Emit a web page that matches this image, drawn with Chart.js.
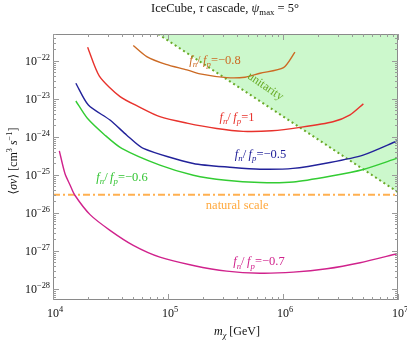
<!DOCTYPE html>
<html>
<head>
<meta charset="utf-8">
<script src="https://cdn.jsdelivr.net/npm/chart.js@4.4.0/dist/chart.umd.min.js"></script>
<style>
  html, body { margin: 0; padding: 0; background: #fff; }
  #chart { display: block; }
</style>
</head>
<body>
<canvas id="chart" width="407" height="343"></canvas>
<script>
const serif = '"Liberation Serif", "DejaVu Serif", serif';

// dark matter mass m_chi [GeV] and <sigma v> [cm^3 s^-1]
const massFnFp1 = [2.0e4, 2.53e4, 3.83e4, 5.71e4, 8.5e4, 1.46e5, 2.65e5, 4.5e5, 8.0e5, 1.41e6, 2.72e6, 3.83e6, 5.0e6];
const sigmaFnFp1 = [2.3e-22, 4.0e-23, 1.15e-23, 6.0e-24, 3.4e-24, 2.3e-24, 1.66e-24, 1.4e-24, 1.45e-24, 1.78e-24, 2.5e-24, 3.8e-24, 7.4e-24];

const massFnFpM08 = [4.99e4, 6.53e4, 9.6e4, 1.46e5, 1.90e5, 3.24e5, 4.68e5, 6.31e5, 1.01e6, 1.27e6];
const sigmaFnFpM08 = [2.54e-22, 1.30e-22, 8.1e-23, 5.8e-23, 4.54e-23, 3.62e-23, 3.72e-23, 4.73e-23, 6.65e-23, 1.70e-22];

const massFnFpM05 = [1.58e4, 2.03e4, 3.13e4, 4.38e4, 6.10e4, 1.66e5, 3.67e5, 6.31e5, 1.22e6, 2.56e6, 4.97e6, 9.8e6];
const sigmaFnFpM05 = [2.58e-23, 6.9e-24, 2.77e-24, 1.11e-24, 4.98e-25, 2.0e-25, 1.57e-25, 1.41e-25, 1.48e-25, 2.12e-25, 3.31e-25, 7.8e-25];

const massFnFpM06 = [1.58e4, 1.99e4, 2.83e4, 3.96e4, 8.5e4, 1.66e5, 3.19e5, 6.31e5, 1.23e6, 2.56e6, 4.99e6, 9.75e6];
const sigmaFnFpM06 = [8.8e-24, 3.08e-24, 1.11e-24, 4.98e-25, 1.80e-25, 9.8e-26, 7.2e-26, 6.3e-26, 6.5e-26, 9.2e-26, 1.39e-25, 2.71e-25];

const massFnFpM07 = [1.135e4, 1.27e4, 1.41e4, 1.55e4, 2.10e4, 3.13e4, 4.99e4, 8.5e4, 1.66e5, 3.24e5, 6.31e5, 1.23e6, 2.40e6, 4.68e6, 9.75e6];
const sigmaFnFpM07 = [4.30e-25, 1.09e-25, 5.35e-26, 2.91e-26, 9.0e-27, 3.48e-27, 1.40e-27, 6.85e-28, 4.14e-28, 2.93e-28, 2.59e-28, 2.76e-28, 3.39e-28, 4.89e-28, 8.4e-28];

const unitarityMass = [8.2e4, 1e7];
const unitaritySigma = [5.1e-22, 3.5e-26];

const naturalMass = [1e4, 1e7];
const naturalSigma = [3e-26, 3e-26];

const xTickExps = [4, 5, 6, 7];
const yTickExps = [-28, -27, -26, -25, -24, -23, -22];

function toPoints(xs, ys) {
    return xs.map((x, i) => ({ x: x, y: ys[i] }));
}

// draw text made of pieces: style 'i' italic, 'b' subscript, 'p' superscript
function drawRich(ctx, segs, x, y, size, align, color) {
    const parts = segs.map(([t, s]) => {
        const script = s.includes('p') ? 'sup' : s.includes('b') ? 'sub' : '';
        const fs = script ? size * 0.7 : size;
        const font = (s.includes('i') ? 'italic ' : '') + fs + 'px ' + serif;
        ctx.font = font;
        return { t: t, font: font, w: ctx.measureText(t).width,
                 dy: script === 'sup' ? -size * 0.42 : script === 'sub' ? size * 0.25 : 0 };
    });
    const total = parts.reduce((a, p) => a + p.w, 0);
    let cx = align === 'center' ? x - total / 2 : align === 'right' ? x - total : x;
    ctx.fillStyle = color;
    ctx.textAlign = 'left';
    ctx.textBaseline = 'alphabetic';
    parts.forEach(p => {
        ctx.font = p.font;
        ctx.fillText(p.t, cx, y + p.dy);
        cx += p.w;
    });
}

function ratioLabel(val) {
    return [['f', 'i'], ['n', 'ib'], ['/', ''], ['\u2009f', 'i'], ['p', 'ib'], ['=' + val, '']];
}

const decorPlugin = {
    id: 'decor',
    afterDatasetsDraw(chart) {
        const ctx = chart.ctx;
        const area = chart.chartArea;
        const xs = chart.scales.x;
        const ys = chart.scales.y;
        ctx.save();

        // curve labels, anchored in data coordinates
        const labels = [
            [ratioLabel('\u22120.8'), 2.56e5, 8.3e-23, '#cc6a24'],
            [ratioLabel('1'), 3.98e5, 2.6e-24, '#e8322c'],
            [ratioLabel('\u22120.5'), 6.37e5, 2.76e-25, '#22229a'],
            [ratioLabel('\u22120.6'), 3.98e4, 6.8e-26, '#33c433'],
            [ratioLabel('\u22120.7'), 6.18e5, 4.14e-28, '#d0228c'],
            [[['natural scale', '']], 4.0e5, 1.25e-26, '#ffa83c']
        ];
        labels.forEach(([segs, mx, sv, col]) => {
            drawRich(ctx, segs, xs.getPixelForValue(mx), ys.getPixelForValue(sv), 12.5, 'center', col);
        });

        ctx.save();
        ctx.translate(xs.getPixelForValue(7.0e5), ys.getPixelForValue(2.1e-23));
        ctx.rotate(34 * Math.PI / 180);
        drawRich(ctx, [['unitarity', '']], 0, 3, 12, 'center', '#66aa22');
        ctx.restore();

        // frame
        ctx.strokeStyle = '#8a8a8a';
        ctx.lineWidth = 1;
        ctx.strokeRect(area.left + 0.5, area.top + 0.5, area.right - area.left - 1, area.bottom - area.top - 1);

        // ticks on all four sides, pointing inward
        ctx.strokeStyle = '#9a9a9a';
        ctx.beginPath();
        xTickExps.forEach(e => {
            for (let m = 1; m <= 9; m++) {
                const v = m * Math.pow(10, e);
                if (v > xs.max * 1.0001) break;
                const px = Math.round(xs.getPixelForValue(v)) + 0.5;
                const len = m === 1 ? 6 : 3;
                ctx.moveTo(px, area.bottom); ctx.lineTo(px, area.bottom - len);
                ctx.moveTo(px, area.top); ctx.lineTo(px, area.top + len);
            }
        });
        [-29].concat(yTickExps).forEach(e => {
            for (let m = 1; m <= 9; m++) {
                const v = m * Math.pow(10, e);
                if (v < ys.min || v > ys.max) continue;
                const py = Math.round(ys.getPixelForValue(v)) + 0.5;
                const len = m === 1 ? 6 : 3;
                ctx.moveTo(area.left, py); ctx.lineTo(area.left + len, py);
                ctx.moveTo(area.right, py); ctx.lineTo(area.right - len, py);
            }
        });
        ctx.stroke();

        // tick labels
        xTickExps.forEach(e => {
            const px = xs.getPixelForValue(Math.pow(10, e));
            drawRich(ctx, [['10', ''], [String(e), 'p']], px + 2, area.bottom + 17, 12, 'center', '#111');
        });
        yTickExps.forEach(e => {
            const py = ys.getPixelForValue(Math.pow(10, e));
            drawRich(ctx, [['10', ''], ['\u2212' + Math.abs(e), 'p']], area.left - 3, py + 4, 12, 'right', '#111');
        });

        // title and axis titles
        drawRich(ctx, [['IceCube, ', ''], ['\u03c4', 'i'], [' cascade, ', ''], ['\u03c8', 'i'], ['max', 'b'], [' = 5\u00b0', '']],
                 225, 12, 12.5, 'center', '#111');
        drawRich(ctx, [['m', 'i'], ['\u03c7', 'ib'], [' [GeV]', '']], 237, 335, 12, 'center', '#111');
        ctx.save();
        ctx.translate(17, 161);
        ctx.rotate(-Math.PI / 2);
        drawRich(ctx, [['\u27e8', ''], ['\u03c3v', 'i'], ['\u27e9 [cm', ''], ['3', 'p'], [' s', 'i'], ['\u22121', 'p'], [']', '']],
                 0, 0, 12, 'center', '#111');
        ctx.restore();

        ctx.restore();
    }
};

function curve(points, color, extra) {
    return Object.assign({
        data: points,
        showLine: true,
        borderColor: color,
        borderWidth: 1.4,
        pointRadius: 0,
        tension: 0.25,
        fill: false,
        order: 1
    }, extra || {});
}

const ctx = document.getElementById('chart').getContext('2d');
new Chart(ctx, {
    type: 'scatter',
    data: {
        datasets: [
            curve(toPoints(unitarityMass, unitaritySigma), '#6aaa28', {
                borderDash: [2, 3], borderWidth: 2, tension: 0,
                fill: 'end', backgroundColor: '#ccf8cc', order: 5
            }),
            curve(toPoints(naturalMass, naturalSigma), '#ffb050', {
                borderDash: [7, 3, 2, 3], borderWidth: 2, tension: 0, order: 4
            }),
            curve(toPoints(massFnFpM08, sigmaFnFpM08), '#cc6a24'),
            curve(toPoints(massFnFp1, sigmaFnFp1), '#e8322c'),
            curve(toPoints(massFnFpM05, sigmaFnFpM05), '#22229a'),
            curve(toPoints(massFnFpM06, sigmaFnFpM06), '#33cc33'),
            curve(toPoints(massFnFpM07, sigmaFnFpM07), '#d0228c')
        ]
    },
    options: {
        responsive: false,
        animation: false,
        devicePixelRatio: 1,
        layout: { padding: { left: 53, right: 9, top: 34, bottom: 43 } },
        plugins: {
            legend: { display: false },
            tooltip: { enabled: false },
            title: { display: false }
        },
        scales: {
            x: { type: 'logarithmic', min: 1e4, max: 1e7, display: false },
            y: { type: 'logarithmic', min: 5.1e-29, max: 5.1e-22, display: false }
        }
    },
    plugins: [decorPlugin]
});
</script>
</body>
</html>
